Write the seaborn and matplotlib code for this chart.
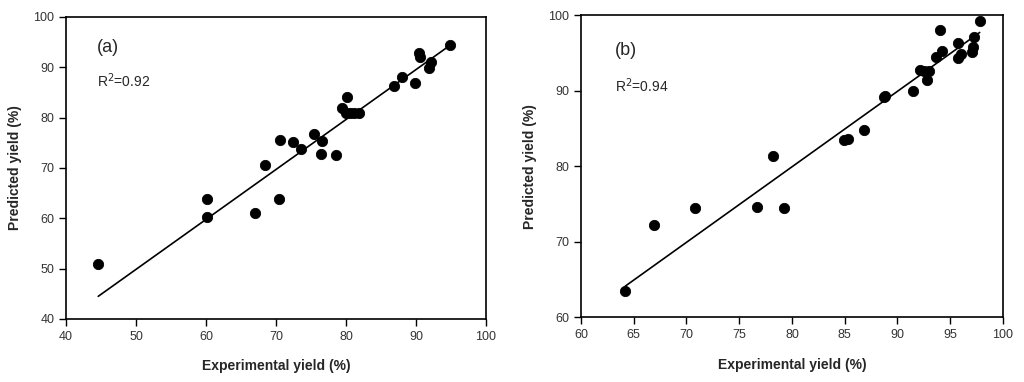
import pandas as pd
import seaborn as sns
import matplotlib.pyplot as plt

# Panel (a) data
exp_a = [44.6, 60.2, 60.2, 67.0, 68.4, 70.4, 70.6, 72.5, 73.6, 75.5, 76.6, 76.4, 78.6,
         79.5, 80.1, 80.0, 80.6, 81.2, 81.8, 86.9, 88.0, 89.8, 90.4, 90.6, 92.1, 91.9, 94.9]
pred_a = [50.9, 63.8, 60.2, 61.0, 70.5, 63.8, 75.6, 75.2, 73.8, 76.7, 75.4, 72.8, 72.5,
          82.0, 84.1, 80.9, 80.9, 80.9, 80.9, 86.3, 88.0, 86.8, 92.9, 92.0, 91.0, 89.8, 94.4]
fit_a_x = [44.6, 94.9]
fit_a_y = [44.5, 94.4]

# Panel (b) data
exp_b = [64.2, 66.9, 70.8, 76.7, 78.2, 79.2, 84.9, 85.3, 86.8, 88.7, 88.8, 91.5, 92.1,
         92.5, 93.0, 92.8, 93.7, 94.0, 94.2, 95.7, 95.7, 96.0, 97.1, 97.2, 97.3, 97.8]
pred_b = [63.4, 72.2, 74.4, 74.6, 81.4, 74.4, 83.4, 83.6, 84.8, 89.1, 89.3, 89.9, 92.7,
          92.6, 92.6, 91.4, 94.4, 98.0, 95.3, 96.3, 94.3, 94.9, 95.1, 95.8, 97.1, 99.2]
fit_b_x = [64.2, 97.8]
fit_b_y = [64.1, 97.7]

r2_labels = ["R$^2$=0.92", "R$^2$=0.94"]
panel_labels = ["(a)", "(b)"]

sns.set_style("ticks")
plt.rcParams['font.family'] = ['Liberation Sans', 'DejaVu Sans']

fig = plt.figure(figsize=(10.24, 3.82), dpi=100)
ax1 = fig.add_axes([0.0645, 0.165, 0.410, 0.7905])
ax2 = fig.add_axes([0.5674, 0.170, 0.412, 0.7905])

panels = [
    (ax1, exp_a, pred_a, fit_a_x, fit_a_y, (40, 100), (40, 100), range(40, 101, 10), range(40, 101, 10), (0.074, 0.90), (0.074, 0.79)),
    (ax2, exp_b, pred_b, fit_b_x, fit_b_y, (60, 100), (60, 100), range(60, 101, 5), range(60, 101, 10), (0.08, 0.884), (0.08, 0.765)),
]

for i, (ax, x, y, fx, fy, xlim, ylim, xt, yt, lab_pos, r2_pos) in enumerate(panels):
    df = pd.DataFrame({'x': x, 'y': y})
    fit = pd.DataFrame({'x': fx, 'y': fy})
    sns.lineplot(data=fit, x='x', y='y', ax=ax, color='black', linewidth=1.2)
    sns.scatterplot(data=df, x='x', y='y', ax=ax, color='black', s=55, edgecolor='black', zorder=3)
    ax.set_xlim(*xlim)
    ax.set_ylim(*ylim)
    ax.set_xticks(list(xt))
    ax.set_yticks(list(yt))
    ax.tick_params(direction='out', length=5, width=1, labelsize=9, colors='black',
                   labelcolor='#333333')
    for sp in ax.spines.values():
        sp.set_visible(True)
        sp.set_linewidth(1.2)
        sp.set_color('black')
    ax.set_xlabel('Experimental yield (%)', fontsize=10, fontweight='bold', labelpad=12)
    ax.set_ylabel('Predicted yield (%)', fontsize=10, fontweight='bold', labelpad=8)
    ax.text(lab_pos[0], lab_pos[1], panel_labels[i], transform=ax.transAxes,
            fontsize=13, va='center', ha='left')
    ax.text(r2_pos[0], r2_pos[1], r2_labels[i], transform=ax.transAxes,
            fontsize=10, va='center', ha='left')
    for lbl in ax.get_xticklabels() + ax.get_yticklabels():
        lbl.set_family(['Liberation Sans Narrow', 'Liberation Sans', 'DejaVu Sans'])

fig.savefig('out.png', dpi=100)
